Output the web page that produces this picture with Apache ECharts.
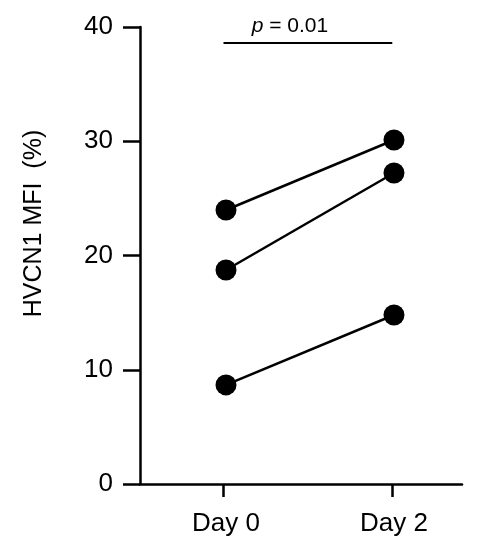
<!DOCTYPE html>
<html>
<head>
<meta charset="utf-8">
<script src="https://cdn.jsdelivr.net/npm/echarts@6/dist/echarts.min.js"></script>
<style>
  html, body { margin: 0; padding: 0; background: #fff; }
  #chart { width: 477px; height: 550px; }
</style>
</head>
<body>
<div id="chart"></div>
<script>
// categories and paired values (one row per subject)
const days = ['Day 0', 'Day 2']
const subjectA = [23.98, 30.11]
const subjectB = [18.73, 27.22]
const subjectC = [8.67, 14.79]
const yTicks = [0, 10, 20, 30, 40]
const pText = '= 0.01'
const bracketY = 38.6

const font = 'Arial, "Liberation Sans", sans-serif'
const chart = echarts.init(document.getElementById('chart'))

const pairSeries = [subjectA, subjectB, subjectC].map((vals, i) => ({
  name: 'subject' + i,
  type: 'line',
  data: vals.map((v, k) => [k, v]),
  symbol: 'circle',
  symbolSize: 21,
  lineStyle: { color: '#000', width: 2.5 },
  itemStyle: { color: '#000' },
  z: 3,
  silent: true,
}))

const option = {
  animation: false,
  grid: { left: 140, right: 15, top: 27, bottom: 66 },
  xAxis: {
    type: 'value',
    min: -0.512,
    max: 1.405,
    splitLine: { show: false },
    axisLine: { onZero: false, lineStyle: { color: '#000', width: 2.5 } },
    axisTick: {
      customValues: [-0.015, 0.99],
      length: 13,
      lineStyle: { color: '#000', width: 2.5 },
    },
    axisLabel: {
      customValues: [0, 1],
      formatter: v => days[Math.round(v)] || '',
      margin: 27,
      fontSize: 26,
      color: '#000',
      fontFamily: font,
    },
  },
  yAxis: {
    type: 'value',
    min: 0,
    max: 40,
    interval: 10,
    name: 'HVCN1 MFI  (%)',
    nameLocation: 'middle',
    nameGap: 93,
    nameTextStyle: {
      fontSize: 25,
      color: '#000',
      fontFamily: font,
      padding: [0, 0, 0, 64],
    },
    splitLine: { show: false },
    axisLine: { show: true, onZero: false, lineStyle: { color: '#000', width: 2.5 } },
    axisTick: { length: 17, lineStyle: { color: '#000', width: 2.5 } },
    axisLabel: {
      formatter: v => (yTicks.includes(v) ? String(v) : ''),
      margin: 27,
      fontSize: 26,
      color: '#000',
      fontFamily: font,
    },
  },
  series: [
    ...pairSeries,
    {
      name: 'bracket',
      type: 'line',
      data: [],
      silent: true,
      markLine: {
        silent: true,
        symbol: 'none',
        lineStyle: { color: '#000', width: 2, type: 'solid' },
        label: {
          show: true,
          position: 'middle',
          distance: 6,
          offset: [-18, 0],
          formatter: '{i|p} ' + pText,
          fontSize: 21,
          color: '#000',
          fontFamily: font,
          rich: {
            i: { fontStyle: 'italic', fontSize: 21, color: '#000', fontFamily: font },
          },
        },
        data: [[{ coord: [-0.015, bracketY] }, { coord: [0.99, bracketY] }]],
      },
    },
  ],
}

chart.setOption(option)
</script>
</body>
</html>
